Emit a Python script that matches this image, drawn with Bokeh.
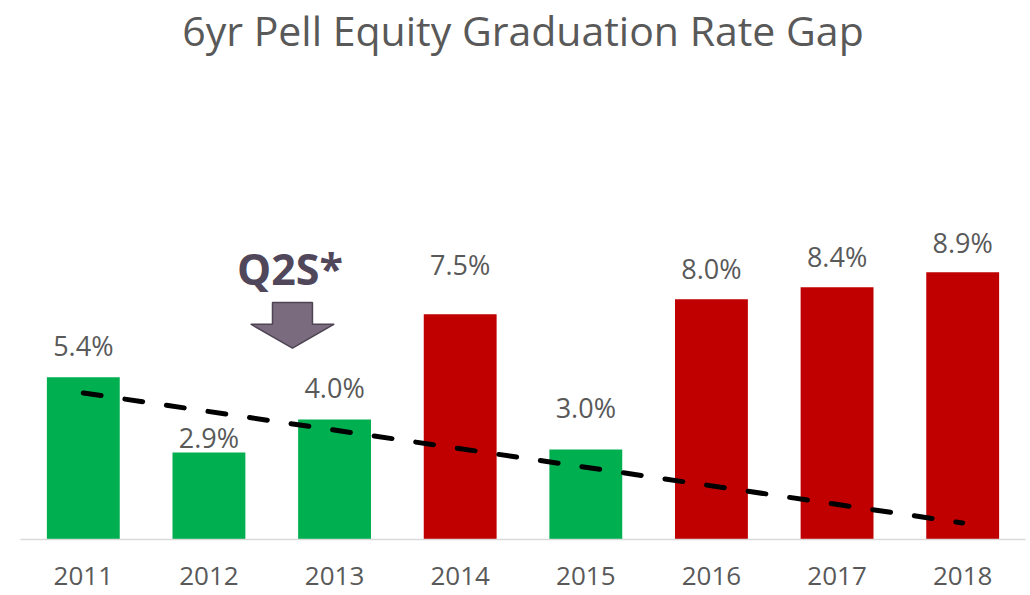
from bokeh.plotting import figure
from bokeh.models import Range1d, FixedTicker, ColumnDataSource
from bokeh.core.properties import value
from bokeh.embed import file_html
from bokeh.resources import INLINE

# ---- data ----
years = ["2011", "2012", "2013", "2014", "2015", "2016", "2017", "2018"]
gap_pct = [5.4, 2.9, 4.0, 7.5, 3.0, 8.0, 8.4, 8.9]
gap_labels = ["5.4%", "2.9%", "4.0%", "7.5%", "3.0%", "8.0%", "8.4%", "8.9%"]
bar_colors = ["#00b050", "#00b050", "#00b050", "#c00000",
              "#00b050", "#c00000", "#c00000", "#c00000"]
trend_start = 4.88   # trend line value at 2011
trend_end = 0.55     # trend line value at 2018
title_text = "6yr Pell Equity Graduation Rate Gap"
note_text = "Q2S*"

# ---- style / layout ----
label_gap_px = [21, 4, 21, 39, 31, 20, 20, 19]   # baseline-to-bar-top gap
W, H = 1030, 595
FRAME_BOTTOM = 538.5
PX_PER_PCT = 30.0
FONT = "Open Sans"
GREY = "#595959"
LABEL_SIZE = 27
MID = 0.39  # em distance from baseline to middle anchor

n = len(years)
xs = list(range(n))

p = figure(width=W, height=H,
           x_range=Range1d(-0.5, n - 0.5),
           y_range=Range1d(0, FRAME_BOTTOM / PX_PER_PCT),
           output_backend="svg", toolbar_location=None,
           y_axis_location=None,
           min_border_left=20, min_border_right=5,
           min_border_top=0, min_border_bottom=int(H - FRAME_BOTTOM))
p.outline_line_color = None
p.background_fill_color = "white"
p.border_fill_color = "white"
p.xgrid.visible = False
p.ygrid.visible = False

ax = p.xaxis[0]
ax.ticker = FixedTicker(ticks=xs)
ax.major_label_overrides = {i: y for i, y in zip(xs, years)}
ax.axis_line_color = "#d9d9d9"
ax.axis_line_width = 1.5
ax.major_tick_line_color = None
ax.minor_tick_line_color = None
ax.major_label_text_font_size = "26px"
ax.major_label_text_color = GREY
ax.major_label_text_font = FONT
ax.major_label_standoff = 21

src = ColumnDataSource(dict(x=xs, top=gap_pct, color=bar_colors, label=gap_labels,
                            yoff=[-(g + MID * LABEL_SIZE) for g in label_gap_px]))
p.vbar(x="x", top="top", bottom=0, width=0.58, fill_color="color", line_color=None, source=src)

p.text(x="x", y="top", text="label", y_offset="yoff", source=src,
       text_align="center", text_baseline="middle",
       text_font=value(FONT), text_font_size=f"{LABEL_SIZE}px", text_color=GREY)

# trend line
p.line([xs[0], xs[-1]], [trend_start, trend_end], line_color="black",
       line_width=5, line_dash="18 24", line_cap="round")

# block arrow
ac = 1.665
shaft_half, head_half = 0.159, 0.332
top_y, head_y, tip_y = 7.89, 7.17, 6.37
ax_poly = [ac - shaft_half, ac + shaft_half, ac + shaft_half, ac + head_half, ac,
           ac - head_half, ac - shaft_half]
ay_poly = [top_y, top_y, head_y, head_y, tip_y, head_y, head_y]
p.patch(ax_poly, ay_poly, fill_color="#7a6b7f", line_color="#4e4453", line_width=1.5)

note_size = 43
p.text(x=[1.645], y=[(FRAME_BOTTOM - (285 - MID * note_size)) / PX_PER_PCT], text=[note_text],
       text_align="center", text_baseline="middle", text_font=value(FONT),
       text_font_style="bold", text_font_size=f"{note_size}px", text_color="#51475a")

# title
title_size = 41
p.text(x=[(n - 1) / 2], y=[(FRAME_BOTTOM - 29) / PX_PER_PCT],
       text=[title_text], text_align="center", text_baseline="middle",
       text_font=value(FONT), text_font_size=f"{title_size}px", text_color=GREY)

open("out.html", "w").write(file_html(p, INLINE))
